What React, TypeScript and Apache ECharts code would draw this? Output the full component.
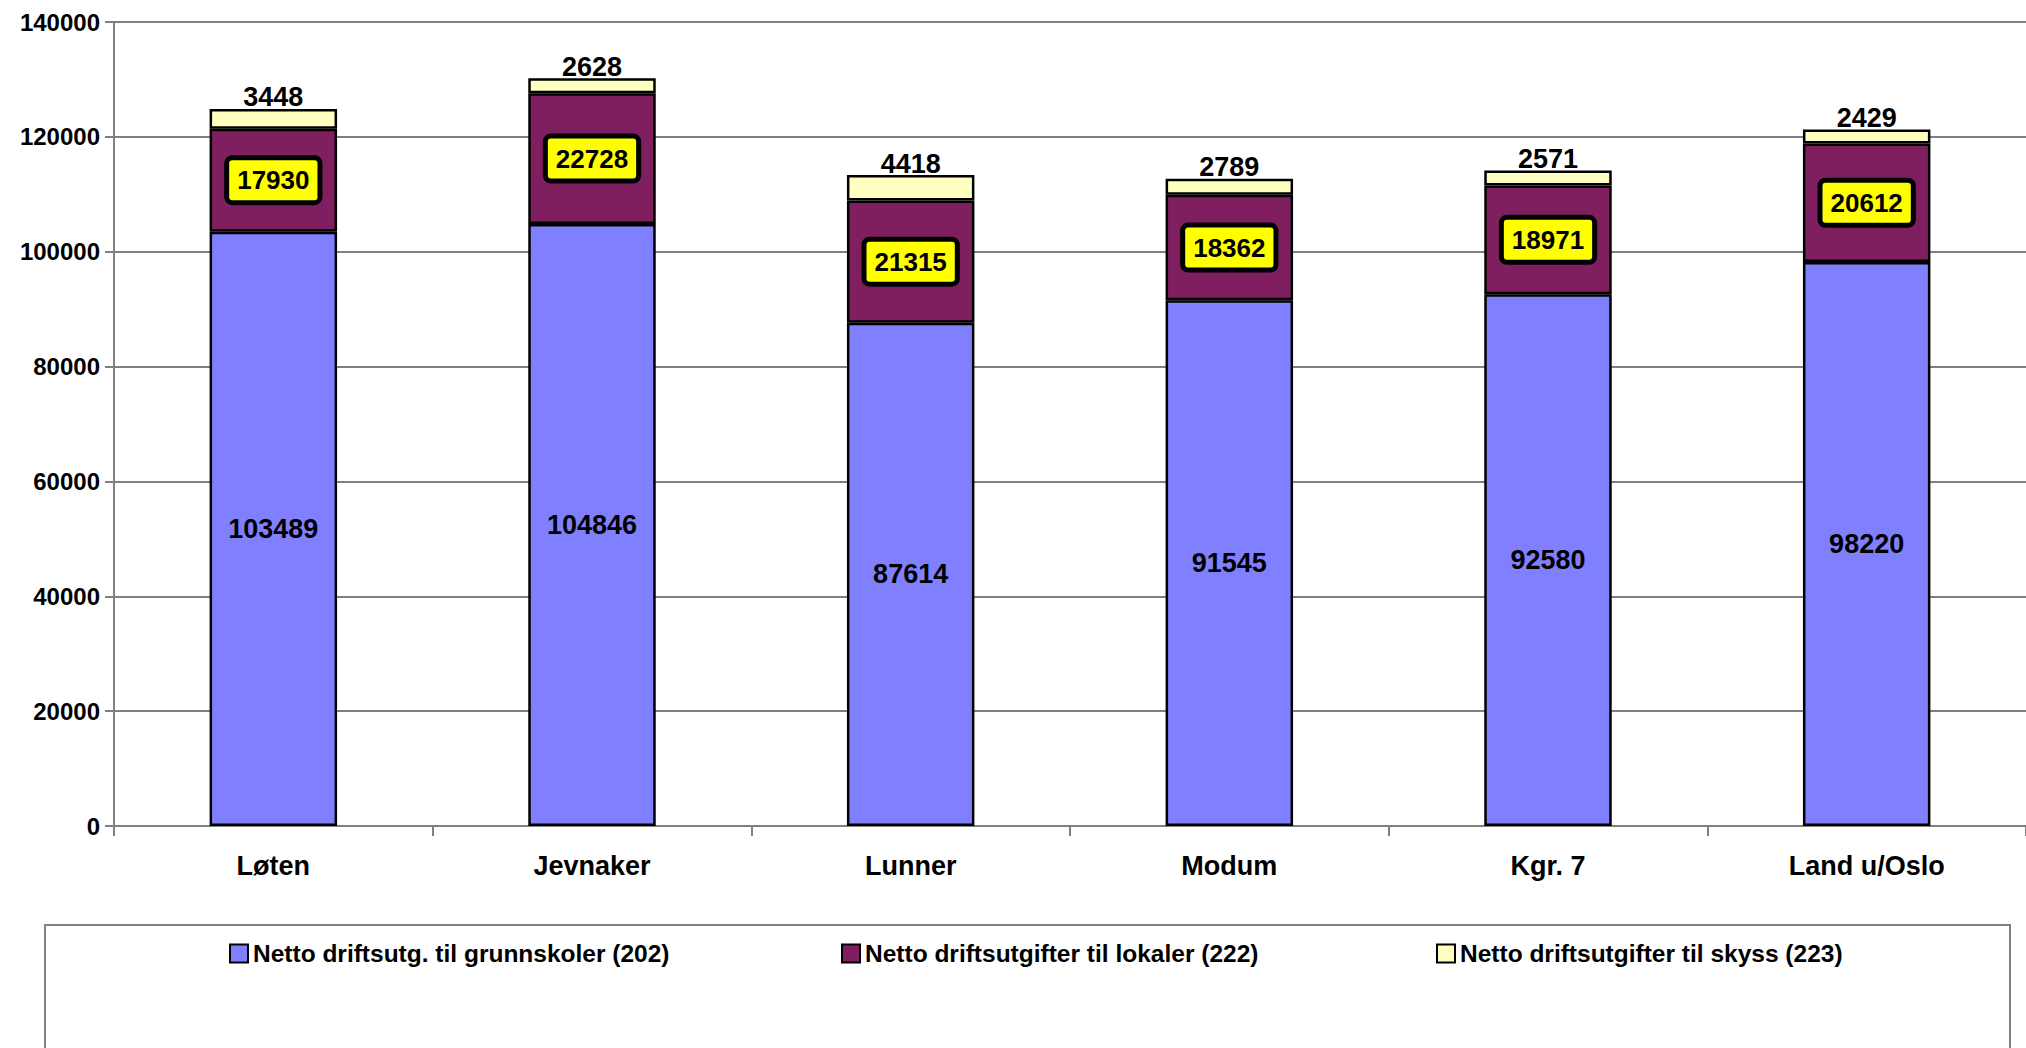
import React, { useEffect, useRef } from "react";
import * as echarts from "echarts";

const categories = ["Løten", "Jevnaker", "Lunner", "Modum", "Kgr. 7", "Land u/Oslo"];
const grunnskoler = [103489, 104846, 87614, 91545, 92580, 98220];
const lokaler = [17930, 22728, 21315, 18362, 18971, 20612];
const skyss = [3448, 2628, 4418, 2789, 2571, 2429];
const seriesNames = [
  "Netto driftsutg. til grunnskoler (202)",
  "Netto driftsutgifter til lokaler (222)",
  "Netto driftsutgifter til skyss (223)",
];
const yTicks = { min: 0, max: 140000, interval: 20000 };

const FONT = "'Liberation Sans Narrow', 'Arial Narrow', 'Liberation Sans', Arial, sans-serif";

export default function App() {
  const ref = useRef<HTMLDivElement>(null);
  useEffect(() => {
    document.body.style.margin = "0";
    const chart = echarts.init(ref.current!, null, { renderer: "svg" });
    const legendBase = {
      orient: "horizontal",
      top: 936,
      itemWidth: 18,
      itemHeight: 18,
      itemGap: 8,
      icon: "rect",
      textStyle: { fontFamily: FONT, fontWeight: "bold", fontSize: 24.5, color: "#000" },
    };
    chart.setOption({
      animation: false,
      backgroundColor: "#fff",
      textStyle: { fontFamily: FONT },
      grid: { left: 114, right: 0, top: 22, bottom: 222, containLabel: false },
      graphic: [
        {
          type: "rect",
          shape: { x: 45, y: 925, width: 1965, height: 200 },
          style: { fill: "#fff", stroke: "#808080", lineWidth: 2 },
          z: -1,
        },
      ],
      legend: [
        { ...legendBase, left: 224, data: [seriesNames[0]] },
        { ...legendBase, left: 836, data: [seriesNames[1]] },
        { ...legendBase, left: 1431, data: [seriesNames[2]] },
      ],
      xAxis: {
        type: "category",
        data: categories,
        boundaryGap: true,
        axisLine: { lineStyle: { color: "#808080", width: 2 } },
        axisTick: { show: true, length: 10, alignWithLabel: false, lineStyle: { color: "#808080", width: 2 } },
        axisLabel: { fontFamily: FONT, fontWeight: "bold", fontSize: 27, color: "#000", margin: 26 },
      },
      yAxis: {
        type: "value",
        min: yTicks.min,
        max: yTicks.max,
        interval: yTicks.interval,
        axisLine: { show: true, lineStyle: { color: "#808080", width: 2 } },
        axisTick: { show: true, length: 9, lineStyle: { color: "#808080", width: 2 } },
        splitLine: { lineStyle: { color: "#808080", width: 2 } },
        axisLabel: {
          fontFamily: FONT,
          fontWeight: "bold",
          fontSize: 24,
          color: "#000",
          margin: 14,
          formatter: (v: number) => String(v),
        },
      },
      series: [
        {
          name: seriesNames[0],
          type: "bar",
          stack: "total",
          barWidth: "40%",
          data: grunnskoler,
          itemStyle: { color: "#8080ff", borderColor: "#000", borderWidth: 2.5 },
          label: {
            show: true,
            position: "inside",
            fontFamily: FONT,
            fontWeight: "bold",
            fontSize: 27,
            color: "#000",
          },
        },
        {
          name: seriesNames[1],
          type: "bar",
          stack: "total",
          data: lokaler,
          itemStyle: { color: "#801f60", borderColor: "#000", borderWidth: 2.5 },
          label: {
            show: true,
            position: "inside",
            fontFamily: FONT,
            fontWeight: "bold",
            fontSize: 26,
            color: "#000",
            backgroundColor: "#ffff00",
            borderColor: "#000",
            borderWidth: 5,
            borderRadius: 3,
            padding: [8, 8, 6, 8],
          },
        },
        {
          name: seriesNames[2],
          type: "bar",
          stack: "total",
          data: skyss,
          itemStyle: { color: "#ffffc0", borderColor: "#000", borderWidth: 2.5 },
          label: {
            show: true,
            position: "top",
            distance: -2,
            fontFamily: FONT,
            fontWeight: "bold",
            fontSize: 27,
            color: "#000",
          },
        },
      ],
    });
    return () => chart.dispose();
  }, []);
  return <div ref={ref} style={{ width: 2026, height: 1048 }} />;
}
